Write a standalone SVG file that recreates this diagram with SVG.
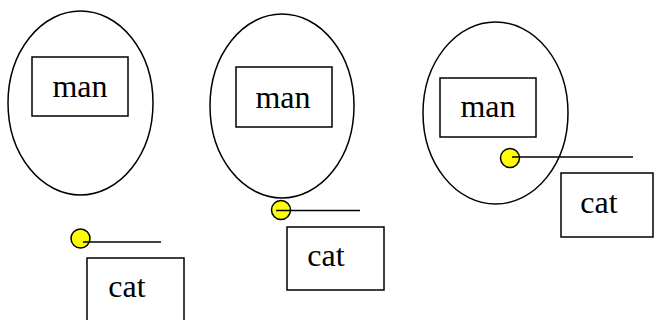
<svg xmlns="http://www.w3.org/2000/svg" width="654" height="320" viewBox="0 0 654 320">
<style>
.sh{fill:none;stroke:#000;stroke-width:1.5}
.bx{fill:#fff;stroke:#000;stroke-width:1.5}
.dot{fill:#ffff00;stroke:#000;stroke-width:1.5}
.ln{stroke:#000;stroke-width:1.5;fill:none}
text{font-family:"Liberation Serif","Times New Roman",serif;font-size:32px;fill:#000;text-anchor:middle}
</style>
<rect width="654" height="320" fill="#fff"/>
<g id="scene1">
<ellipse class="sh" cx="80.5" cy="103" rx="72.5" ry="92"/>
<g id="man1"><rect class="sh" x="32" y="57" width="96" height="59"/><text x="80" y="97">man</text></g>
<g id="cat1"><rect class="bx" x="87" y="258" width="97" height="66"/><text x="127" y="297">cat</text></g>
</g>
<g id="scene2">
<ellipse class="sh" cx="282" cy="106" rx="72" ry="92"/>
<g id="man2"><rect class="sh" x="236" y="67" width="96" height="60"/><text x="283" y="108">man</text></g>
<g id="cat2"><rect class="bx" x="287" y="227" width="97" height="63"/><text x="326" y="266">cat</text></g>
</g>
<g id="scene3">
<ellipse class="sh" cx="495.5" cy="113" rx="72.5" ry="91"/>
<g id="man3"><rect class="sh" x="440" y="78" width="96" height="59"/><text x="488" y="117">man</text></g>
<g id="cat3"><rect class="bx" x="561" y="173" width="92" height="64"/><text x="599" y="213">cat</text></g>
</g>
<g id="connectors">
<circle class="dot" cx="80.5" cy="238.5" r="9.5"/>
<line class="ln" x1="83" y1="242" x2="161" y2="242"/>
<circle class="dot" cx="281" cy="210" r="9.5"/>
<line class="ln" x1="276" y1="210.5" x2="360" y2="210.5"/>
<circle class="dot" cx="510" cy="158" r="9.5"/>
<line class="ln" x1="512" y1="157" x2="633" y2="157"/>
</g>
</svg>
